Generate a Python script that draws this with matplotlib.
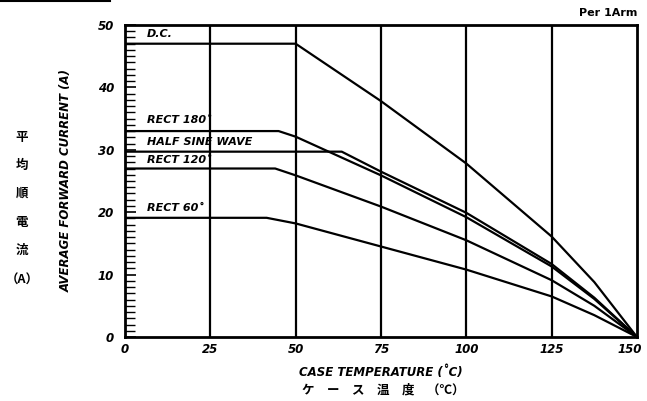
import matplotlib.pyplot as plt
from matplotlib.ticker import MultipleLocator
from matplotlib.transforms import ScaledTranslation

# --- data (case temp in C, current in A) ---
dc_t = [0, 50, 75, 100, 125, 137.5, 150]
dc_i = [47, 47, 37.8, 27.8, 16.1, 8.8, 0]

r180_t = [0, 45, 50, 75, 100, 125, 137.5, 150]
r180_i = [33, 33, 32.1, 25.9, 19.2, 11.3, 6.1, 0]

hsw_t = [0, 63.5, 75, 100, 125, 137.5, 150]
hsw_i = [29.7, 29.7, 26.5, 19.9, 11.7, 6.3, 0]

r120_t = [0, 44, 50, 75, 100, 125, 137.5, 150]
r120_i = [27, 27, 25.9, 20.9, 15.5, 9.1, 5.0, 0]

r60_t = [0, 41.5, 50, 75, 100, 125, 137.5, 150]
r60_i = [19.1, 19.1, 18.2, 14.5, 10.8, 6.5, 3.5, 0]

curve_labels = ['D.C.', 'RECT 180˚', 'HALF SINE WAVE', 'RECT 120˚', 'RECT 60˚']
label_y = [48.6, 34.7, 31.2, 28.4, 20.6]

x_ticks = [0, 25, 50, 75, 100, 125, 150]
y_ticks = [0, 10, 20, 30, 40, 50]

FONT = ['Liberation Sans Narrow', 'DejaVu Sans']
JP = ['Noto Sans CJK JP', 'DejaVu Sans']

fig = plt.figure(figsize=(6.47, 4.01), dpi=100)
ax = fig.add_axes([0.1932, 0.1596, 0.7913, 0.7781])

for t, i in [(dc_t, dc_i), (r180_t, r180_i), (hsw_t, hsw_i),
             (r120_t, r120_i), (r60_t, r60_i)]:
    ax.plot(t, i, color='black', lw=1.6, solid_joinstyle='round')

for x in x_ticks[1:-1]:
    ax.axvline(x, color='black', lw=1.6)

for txt, y in zip(curve_labels, label_y):
    ax.text(6.3, y, txt, fontsize=8, fontweight='bold', style='italic',
            family=FONT, va='center', ha='left')

ax.set_xlim(0, 150)
ax.set_ylim(0, 50)
ax.set_xticks(x_ticks)
ax.set_yticks(y_ticks)
ax.yaxis.set_minor_locator(MultipleLocator(1))
ax.tick_params(axis='x', length=0, pad=4)
ax.tick_params(axis='y', which='major', direction='in', length=8, width=1.2, pad=8)
ax.tick_params(axis='y', which='minor', direction='in', length=7, width=1.0)
for lab in ax.get_xticklabels() + ax.get_yticklabels():
    lab.set_fontweight('bold')
    lab.set_fontstyle('italic')
    lab.set_fontsize(8.5)
    lab.set_family(FONT)
# keep the last x label inside the figure
last = ax.get_xticklabels()[-1]
last.set_transform(last.get_transform() + ScaledTranslation(-5 / 72, 0, fig.dpi_scale_trans))
for sp in ax.spines.values():
    sp.set_linewidth(2.0)

ax.set_xlabel('CASE TEMPERATURE (˚C)', fontsize=8.5, fontweight='bold',
              style='italic', family=FONT, labelpad=7)
ax.set_ylabel('AVERAGE FORWARD CURRENT (A)', fontsize=8.5, fontweight='bold',
              style='italic', family=FONT, labelpad=18)

fig.text(0.592, 0.027, 'ケ　ー　ス　温　度　（℃）', fontsize=9, fontweight='bold',
         family=JP, ha='center', va='center')
for ch, py in zip(['平', '均', '順', '電', '流', '（A）'], [138, 165, 193, 222, 250, 280]):
    fig.text(0.034, 1 - py / 401, ch, fontsize=9, fontweight='bold',
             family=JP, ha='center', va='center')

fig.text(0.985, 0.967, 'Per 1Arm', fontsize=8, fontweight='bold',
         family=FONT, ha='right', va='center')

# scan edge line at top-left
fig.add_artist(plt.Line2D([0, 0.17], [0.998, 0.998], color='black', lw=1.5,
                          transform=fig.transFigure))

fig.savefig('out.png', dpi=100)
